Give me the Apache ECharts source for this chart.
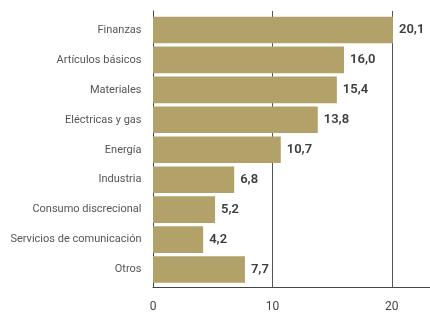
<!DOCTYPE html>
<html>
<head>
<meta charset="utf-8">
<script src="https://cdn.jsdelivr.net/npm/echarts@6/dist/echarts.min.js"></script>
<style>
html,body{margin:0;padding:0;background:#fff;}
#chart{width:430px;height:315px;}
</style>
</head>
<body>
<div id="chart"></div>
<script>
var categories = ["Finanzas","Artículos básicos","Materiales","Eléctricas y gas","Energía","Industria","Consumo discrecional","Servicios de comunicación","Otros"];
var values = [20.1, 16.0, 15.4, 13.8, 10.7, 6.8, 5.2, 4.2, 7.7];
var xTicks = [0, 10, 20];

var chart = echarts.init(document.getElementById('chart'), null, {renderer:'canvas'});
var fontFamily = 'Roboto, "Noto Sans", sans-serif';
var xMin = 0, xMax = 23.2, xInterval = 10;

chart.setOption({
  animation: false,
  grid: [
    {left: 153, right: 0, top: 11, height: 276.5, containLabel: false},
    {left: 153, right: 0, top: 15, height: 269.5, containLabel: false}
  ],
  xAxis: [
    {
      gridIndex: 0, type: 'value', min: xMin, max: xMax, interval: xInterval,
      axisLine: {show: true, onZero: false, lineStyle: {color: '#444', width: 1}},
      axisTick: {show: false},
      splitLine: {show: true, lineStyle: {color: '#555', width: 1}},
      axisLabel: {
        show: true, margin: 13, color: '#444', fontSize: 12, fontFamily: fontFamily,
        showMaxLabel: false,
        formatter: function(v){ return xTicks.indexOf(v) >= 0 ? String(v) : ''; }
      }
    },
    {
      gridIndex: 1, type: 'value', min: xMin, max: xMax, interval: xInterval,
      show: false
    }
  ],
  yAxis: [
    {
      gridIndex: 0, type: 'category', data: categories, inverse: true,
      axisLine: {show: true, lineStyle: {color: '#444', width: 1}},
      axisTick: {show: false}, axisLabel: {show: false}, splitLine: {show: false}
    },
    {
      gridIndex: 1, type: 'category', data: categories, inverse: true,
      axisLine: {show: false}, axisTick: {show: false},
      axisLabel: {show: true, margin: 11.5, color: '#555', fontSize: 11, fontFamily: fontFamily}
    }
  ],
  series: [{
    type: 'bar',
    xAxisIndex: 1, yAxisIndex: 1,
    data: values,
    barWidth: 26.6,
    itemStyle: {color: '#b3a16a'},
    label: {
      show: true, position: 'right', distance: 6,
      color: '#3d3d3d', fontSize: 13, fontWeight: 600, fontFamily: fontFamily,
      formatter: function(p){ return p.value.toFixed(1).replace('.', ','); }
    }
  }]
});
</script>
</body>
</html>
